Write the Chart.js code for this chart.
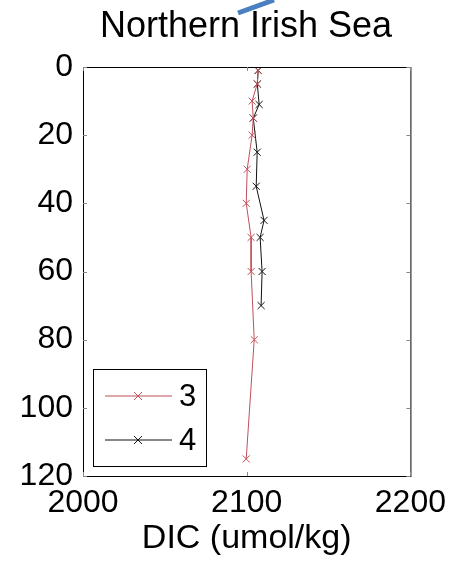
<!DOCTYPE html>
<html>
<head>
<meta charset="utf-8">
<script src="https://cdn.jsdelivr.net/npm/chart.js@4"></script>
<style>
  html, body { margin: 0; padding: 0; background: #fff; }
  #wrap { width: 454px; height: 561px; }
</style>
</head>
<body>
<div id="wrap"><canvas id="dicChart" width="454" height="561"></canvas></div>
<script>
// depth profiles
const depth3 = [1, 5, 10, 15, 20, 30, 40, 50, 60, 80, 115];
const dic3 = [2107, 2106.4, 2103.3, 2104, 2103.3, 2100.3, 2099.7, 2102.7, 2102.7, 2104.6, 2099.7];
const depth4 = [1, 5, 11, 15, 25, 35, 45, 50, 60, 70];
const dic4 = [2107, 2106.5, 2107.6, 2104, 2106.4, 2105.8, 2110.6, 2108.2, 2109.4, 2108.8];
const seriesNames = ['3', '4'];
const xTicks = [2000, 2100, 2200];
const yTicks = [0, 20, 40, 60, 80, 100, 120];

const FONT = '"Liberation Sans", Arial, sans-serif';
const RED = '#c0505a';
const BLACK = '#111111';

function toPoints(xs, ys) {
  return xs.map((x, i) => ({ x: x, y: ys[i] }));
}

// box, inner ticks, title, legend
const matlabLook = {
  id: 'matlabLook',
  afterDraw(chart) {
    const ctx = chart.ctx;
    const a = chart.chartArea;
    const xs = chart.scales.x, ys = chart.scales.y;
    ctx.save();
    ctx.strokeStyle = '#000';
    ctx.lineWidth = 1;
    ctx.strokeRect(a.left + 0.5, a.top + 0.5, a.right - a.left, a.bottom - a.top);

    // inner tick marks
    ctx.strokeStyle = '#888';
    xTicks.forEach(v => {
      const px = Math.round(xs.getPixelForValue(v)) + 0.5;
      ctx.beginPath();
      ctx.moveTo(px, a.bottom); ctx.lineTo(px, a.bottom - 4);
      ctx.moveTo(px, a.top); ctx.lineTo(px, a.top + 4);
      ctx.stroke();
    });
    yTicks.forEach(v => {
      const py = Math.round(ys.getPixelForValue(v)) + 0.5;
      ctx.beginPath();
      ctx.moveTo(a.left, py); ctx.lineTo(a.left + 4, py);
      ctx.moveTo(a.right, py); ctx.lineTo(a.right - 4, py);
      ctx.stroke();
    });

    // title
    ctx.fillStyle = '#000';
    ctx.font = '36px ' + FONT;
    ctx.textAlign = 'center';
    ctx.textBaseline = 'middle';
    ctx.fillText('Northern Irish Sea', 246, 27);

    // stray blue stroke over the title
    ctx.strokeStyle = '#4a7fc1';
    ctx.lineWidth = 5;
    ctx.beginPath();
    ctx.moveTo(238, 13); ctx.lineTo(274, 0);
    ctx.stroke();

    // legend box
    const lx = 93, ly = 369, lw = 113, lh = 97;
    ctx.lineWidth = 1;
    ctx.strokeStyle = '#000';
    ctx.fillStyle = '#fff';
    ctx.fillRect(lx, ly, lw, lh);
    ctx.strokeRect(lx + 0.5, ly + 0.5, lw, lh);
    chart.data.datasets.forEach((ds, i) => {
      const cy = ly + 27 + i * 44;
      ctx.strokeStyle = ds.borderColor;
      ctx.beginPath();
      ctx.moveTo(105, cy); ctx.lineTo(172, cy);
      ctx.moveTo(134, cy - 4); ctx.lineTo(142, cy + 4);
      ctx.moveTo(142, cy - 4); ctx.lineTo(134, cy + 4);
      ctx.stroke();
      ctx.fillStyle = '#000';
      ctx.font = '31px ' + FONT;
      ctx.textAlign = 'left';
      ctx.fillText(ds.label, 179, cy + 1);
    });
    ctx.restore();
  }
};

const ctx = document.getElementById('dicChart').getContext('2d');
const dicChart = new Chart(ctx, {
  type: 'scatter',
  data: {
    datasets: [
      {
        label: seriesNames[0],
        data: toPoints(dic3, depth3),
        showLine: true,
        borderColor: RED,
        backgroundColor: RED,
        borderWidth: 1,
        pointStyle: 'crossRot',
        pointRadius: 5,
        pointBorderWidth: 1
      },
      {
        label: seriesNames[1],
        data: toPoints(dic4, depth4),
        showLine: true,
        borderColor: BLACK,
        backgroundColor: BLACK,
        borderWidth: 1,
        pointStyle: 'crossRot',
        pointRadius: 5,
        pointBorderWidth: 1
      }
    ]
  },
  options: {
    responsive: false,
    animation: false,
    layout: { padding: { top: 67, right: 41, left: 0, bottom: 0 } },
    plugins: {
      legend: { display: false },
      tooltip: { enabled: false }
    },
    scales: {
      x: {
        type: 'linear',
        min: 2000,
        max: 2200,
        afterBuildTicks: s => { s.ticks = xTicks.map(v => ({ value: v })); },
        afterFit: s => { s.height = 85; },
        grid: { display: false, drawTicks: false },
        border: { display: false },
        ticks: {
          color: '#000',
          font: { family: FONT, size: 32 },
          padding: 8,
          maxRotation: 0,
          callback: v => String(v)
        },
        title: {
          display: true,
          text: 'DIC (umol/kg)',
          color: '#000',
          font: { family: FONT, size: 34 },
          padding: { top: 0, bottom: 2 }
        }
      },
      y: {
        type: 'linear',
        reverse: true,
        min: 0,
        max: 120,
        afterBuildTicks: s => { s.ticks = yTicks.map(v => ({ value: v })); },
        afterFit: s => { s.width = 83; },
        grid: { display: false, drawTicks: false },
        border: { display: false },
        ticks: {
          color: '#000',
          font: { family: FONT, size: 32 },
          padding: 10,
          callback: v => String(v)
        }
      }
    }
  },
  plugins: [matlabLook]
});
</script>
</body>
</html>
